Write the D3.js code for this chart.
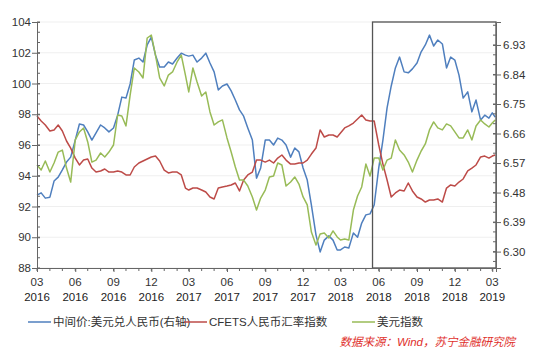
<!DOCTYPE html>
<html><head><meta charset="utf-8">
<script src="https://cdn.jsdelivr.net/npm/d3@7"></script>
<style>
body{margin:0;background:#fff;}
text{font-family:"Liberation Sans",Arial,"Noto Sans CJK SC",sans-serif;}
</style></head>
<body><svg id="c" width="533" height="350"></svg>
<script>
const dates = [
"2016-03-01","2016-03-11","2016-03-21","2016-04-01","2016-04-11","2016-04-21","2016-05-01","2016-05-11","2016-05-21",
"2016-06-01","2016-06-11","2016-06-21","2016-07-01","2016-07-11","2016-07-21","2016-08-01","2016-08-11","2016-08-21",
"2016-09-01","2016-09-11","2016-09-21","2016-10-01","2016-10-11","2016-10-21","2016-11-01","2016-11-11","2016-11-21",
"2016-12-01","2016-12-11","2016-12-21","2017-01-01","2017-01-11","2017-01-21","2017-02-01","2017-02-11","2017-02-21",
"2017-03-01","2017-03-11","2017-03-21","2017-04-01","2017-04-11","2017-04-21","2017-05-01","2017-05-11","2017-05-21",
"2017-06-01","2017-06-11","2017-06-21","2017-07-01","2017-07-11","2017-07-21","2017-08-01","2017-08-11","2017-08-21",
"2017-09-01","2017-09-11","2017-09-21","2017-10-01","2017-10-11","2017-10-21","2017-11-01","2017-11-11","2017-11-21",
"2017-12-01","2017-12-11","2017-12-21","2018-01-01","2018-01-11","2018-01-21","2018-02-01","2018-02-11","2018-02-21",
"2018-03-01","2018-03-11","2018-03-21","2018-04-01","2018-04-11","2018-04-21","2018-05-01","2018-05-11","2018-05-21",
"2018-06-01","2018-06-11","2018-06-21","2018-07-01","2018-07-11","2018-07-21","2018-08-01","2018-08-11","2018-08-21",
"2018-09-01","2018-09-11","2018-09-21","2018-10-01","2018-10-11","2018-10-21","2018-11-01","2018-11-11","2018-11-21",
"2018-12-01","2018-12-11","2018-12-21","2019-01-01","2019-01-11","2019-01-21","2019-02-01","2019-02-11","2019-02-21",
"2019-03-01","2019-03-08"];

// 中间价:美元兑人民币 (right axis)
const usdcny = [
6.472,6.479,6.463, 6.466,6.515,6.527, 6.549,6.573,6.588,
6.640,6.689,6.686, 6.665,6.640,6.662, 6.686,6.677,6.665,
6.677,6.716,6.771, 6.768,6.811,6.884, 6.890,6.878,6.930,
6.954,6.899,6.863, 6.863,6.878,6.872, 6.890,6.905,6.899,
6.896,6.899,6.878, 6.890,6.905,6.875, 6.848,6.793,6.805,
6.811,6.790,6.762, 6.732,6.713,6.677, 6.640,6.524,6.555,
6.640,6.640,6.625, 6.646,6.640,6.625, 6.588,6.616,6.604,
6.555,6.518,6.442, 6.351,6.299,6.335, 6.348,6.335,6.305,
6.305,6.314,6.311, 6.357,6.344,6.387, 6.412,6.415,6.442,
6.555,6.640,6.738, 6.805,6.860,6.893, 6.848,6.845,6.857,
6.875,6.909,6.930, 6.960,6.927,6.945, 6.933,6.860,6.893,
6.884,6.838,6.768, 6.787,6.726,6.762, 6.701,6.716,6.707,
6.723,6.710];

// CFETS人民币汇率指数 (left axis)
const cfets = [
97.89,97.56,97.30, 96.91,96.98,97.30, 96.91,96.26,95.80,
95.15,94.70,95.02, 95.09,94.50,94.24, 94.31,94.44,94.24,
94.24,94.31,94.24, 94.05,94.05,94.57, 94.83,94.96,95.09,
95.22,95.28,94.96, 94.37,94.18,94.24, 94.24,94.05,93.20,
93.07,93.20,93.20, 93.07,92.94,92.62, 92.49,93.20,93.27,
93.33,93.40,93.53, 93.01,93.72,94.05, 94.24,95.02,95.02,
94.89,95.02,94.83, 95.15,95.35,95.02, 94.76,94.76,94.83,
94.83,95.02,95.41, 95.80,96.98,96.52, 96.65,96.65,96.52,
96.78,97.11,97.24, 97.43,97.69,97.95, 97.63,97.56,97.56,
96.00,94.76,93.72, 92.62,92.88,93.07, 93.01,93.53,93.01,
92.62,92.49,92.29, 92.42,92.42,92.49, 92.29,93.20,93.40,
93.33,93.59,93.79, 94.31,94.50,94.70, 95.22,95.28,95.15,
95.28,95.35];

// 美元指数 (left axis)
const dxy = [
94.70,94.37,94.96, 94.24,94.83,95.54, 95.67,94.50,93.59,
96.33,96.85,97.11, 96.20,94.89,95.02, 95.48,95.22,95.54,
96.00,97.95,97.89, 97.24,99.25,101.01, 100.75,100.36,102.96,
103.15,101.85,100.36, 99.84,100.55,100.75, 101.40,101.85,100.55,
99.45,101.01,100.10, 99.19,99.45,98.15, 97.30,97.50,97.63,
96.46,95.54,94.57, 93.72,93.72,93.33, 92.62,91.77,92.55,
93.07,93.92,93.98, 94.83,94.70,93.33, 93.59,93.92,93.46,
92.62,92.10,90.34, 89.50,90.21,90.28, 89.95,90.41,90.02,
89.82,89.89,89.82, 91.77,92.68,93.27, 94.76,93.98,95.15,
95.15,94.37,95.02, 95.15,96.33,95.67, 95.35,94.89,94.24,
95.02,95.61,96.07, 96.98,97.50,97.11, 96.98,97.37,97.24,
96.85,96.46,96.46, 96.98,96.33,97.24, 97.63,97.37,97.17,
97.43,97.63];

const leftTicks = [88,90,92,94,96,98,100,102,104];
const rightTicks = [6.30,6.39,6.48,6.57,6.66,6.75,6.84,6.93];
const xTicks = ["2016-03-01","2016-06-01","2016-09-01","2016-12-01","2017-03-01","2017-06-01","2017-09-01",
  "2017-12-01","2018-03-01","2018-06-01","2018-09-01","2018-12-01","2019-03-01"];
const xTickMonth = ["03","06","09","12","03","06","09","12","03","06","09","12","03"];
const xTickYear = ["2016","2016","2016","2016","2017","2017","2017","2017","2018","2018","2018","2018","2019"];
const seriesNames = ["中间价:美元兑人民币(右轴)","CFETS人民币汇率指数","美元指数"];
const colors = ["#4f7fbe","#bd4b48","#98bb57"];
const boxStart = "2018-05-17";
const sourceText = "数据来源：Wind，苏宁金融研究院";

const parse = d3.timeParse("%Y-%m-%d");
const svg = d3.select("#c");
const L = 37, R = 496, T = 22, B = 268;

const x = d3.scaleTime().domain([parse("2016-03-01"), parse("2019-03-10")]).range([L, R]);
const yL = d3.scaleLinear().domain([88,104]).range([B, T]);
const yR = d3.scaleLinear().domain([6.25,7.0]).range([B, T]);

// gridlines
svg.append("g").selectAll("line").data(leftTicks).join("line")
  .attr("x1", L).attr("x2", R).attr("y1", d=>yL(d)).attr("y2", d=>yL(d))
  .attr("stroke", "#efefef").attr("stroke-width", 1);

// series
const pts = dates.map(parse);
function drawLine(vals, scale, color){
  const line = d3.line().x((d,i)=>x(pts[i])).y(d=>scale(d));
  svg.append("path").datum(vals).attr("d", line)
    .attr("fill","none").attr("stroke", color).attr("stroke-width",1.5)
    .attr("stroke-linejoin","round");
}
drawLine(usdcny, yR, colors[0]);
drawLine(cfets, yL, colors[1]);
drawLine(dxy, yL, colors[2]);

// highlight box
svg.append("rect").attr("x", x(parse(boxStart))).attr("y", yL(104))
  .attr("width", R - x(parse(boxStart))).attr("height", yL(88)-yL(104))
  .attr("fill","none").attr("stroke","#555").attr("stroke-width",1.3);

// left axis
const gl = svg.append("g").attr("transform",`translate(${L},0)`);
gl.call(d3.axisLeft(yL).tickValues(leftTicks).tickSize(5).tickFormat(d3.format("d")));
gl.selectAll(".tick line").attr("x2",-5).attr("x1",3);
gl.append("g").selectAll("line").data(d3.range(88,104.01,2/3)).join("line")
  .attr("x1",0).attr("x2",3).attr("y1",d=>yL(d)).attr("y2",d=>yL(d)).attr("stroke","#666");
// right axis
const gr = svg.append("g").attr("transform",`translate(${R},0)`);
gr.call(d3.axisRight(yR).tickValues(rightTicks).tickSize(5).tickFormat(d3.format(".2f")));
gr.selectAll(".tick line").attr("x1",-3);
gr.append("g").selectAll("line").data(d3.range(6.27,7.0,0.03)).join("line")
  .attr("x1",-3).attr("x2",0).attr("y1",d=>yR(d)).attr("y2",d=>yR(d)).attr("stroke","#666");
// bottom axis
const gb = svg.append("g").attr("transform",`translate(0,${B})`);
const qTicks = xTicks.map(parse);
gb.call(d3.axisBottom(x).tickValues(qTicks).tickSize(4).tickFormat(""));
gb.append("g").selectAll("line").data(d3.timeMonth.range(parse("2016-03-01"), parse("2019-03-02"))).join("line")
  .attr("x1",d=>x(d)).attr("x2",d=>x(d)).attr("y1",0).attr("y2",3).attr("stroke","#666");
const lab = gb.append("g").selectAll("g").data(qTicks).join("g").attr("transform",d=>`translate(${x(d)},0)`);
lab.append("text").attr("y",18).attr("text-anchor","middle").attr("font-size",11.5).attr("fill","#333")
  .text((d,i)=>xTickMonth[i]);
lab.append("text").attr("y",33).attr("text-anchor","middle").attr("font-size",11.5).attr("fill","#222")
  .text((d,i)=>xTickYear[i]);

[gl,gr,gb].forEach(g=>{
  g.select(".domain").attr("stroke","#666");
  g.selectAll(".tick line").attr("stroke","#666");
  g.selectAll(".tick text").attr("font-size",11.5).attr("fill","#333")
    .style("font-family",'"Liberation Sans",Arial,sans-serif');
});
gl.selectAll(".tick text").attr("x",-6);
gr.selectAll(".tick text").attr("x",7);

// legend
const legX = [28, 184, 352];
const lg = svg.append("g").selectAll("g").data(seriesNames).join("g")
  .attr("transform",(d,i)=>`translate(${legX[i]},322)`);
lg.append("line").attr("x1",0).attr("x2",23).attr("stroke",(d,i)=>colors[i]).attr("stroke-width",1.5);
lg.append("text").attr("x",25).attr("y",4).attr("font-size",11.5).attr("fill","#333").text(d=>d);

svg.append("text").attr("x",515).attr("y",346).attr("text-anchor","end")
  .attr("font-size",11.5).attr("font-style","italic").attr("fill","#e0302c").text(sourceText);
</script></body></html>
